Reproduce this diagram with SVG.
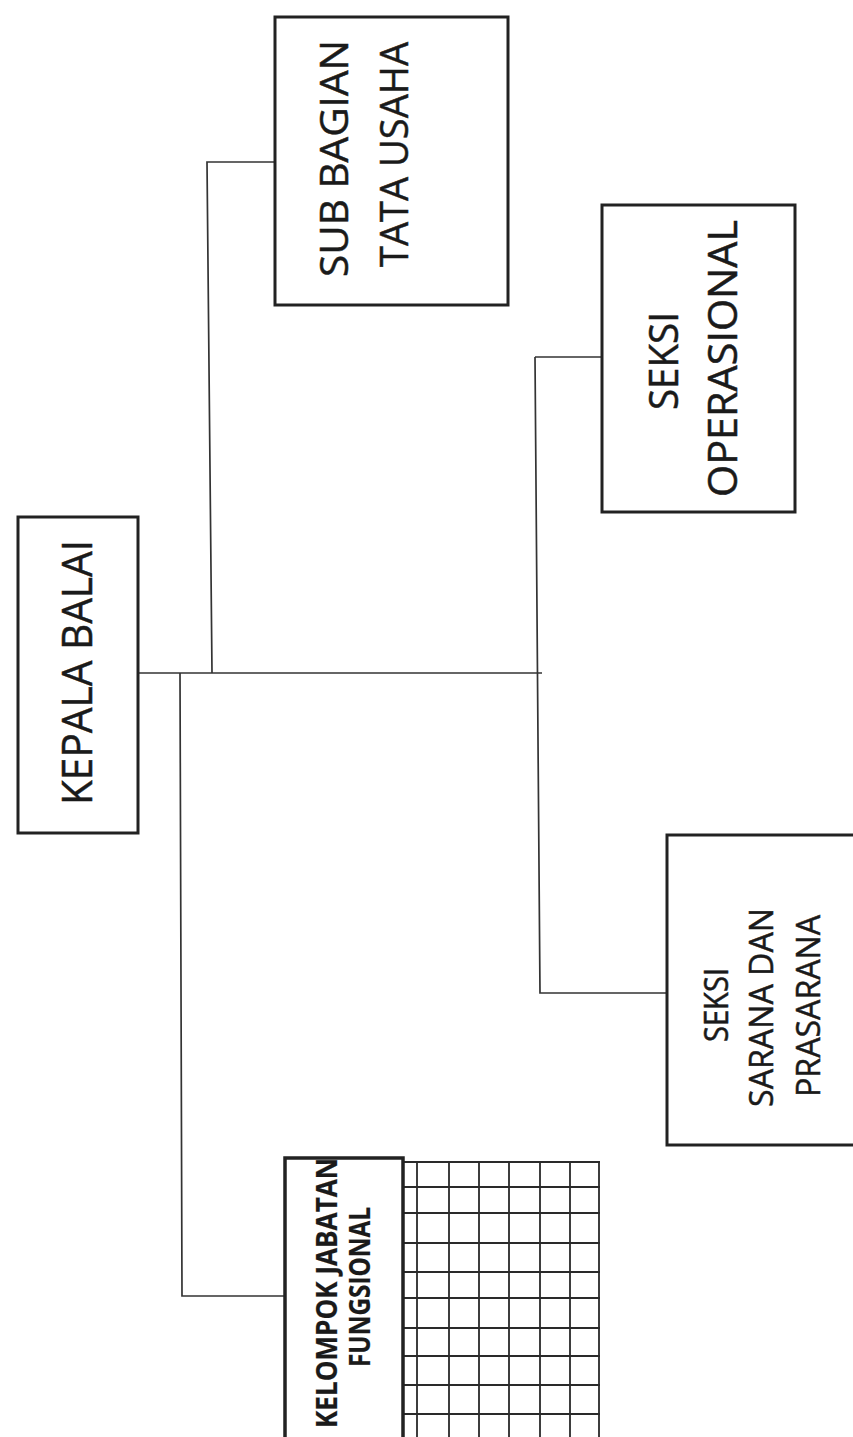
<svg xmlns="http://www.w3.org/2000/svg" width="853" height="1437" viewBox="0 0 853 1437">
<style>
.box{fill:#fff;stroke:#222;stroke-width:3}
.conn{fill:none;stroke:#333;stroke-width:1.7}
.grid{fill:none;stroke:#2a2a2a;stroke-width:1.8}
.t{font-family:"Open Sans","Liberation Sans",sans-serif;fill:#1a1a1a;stroke:#1a1a1a;stroke-width:0.5;text-anchor:middle}
.b{font-weight:bold;stroke-width:0.2}
</style>
<rect width="853" height="1437" fill="#fff"/>
<g id="connectors">
<path class="conn" d="M138,673 H542"/>
<path class="conn" d="M212,673 L207,162 H275"/>
<path class="conn" d="M535,357 L540,993 H668"/>
<path class="conn" d="M535,357 H603"/>
<path class="conn" d="M180,673 L182,1296 H285"/>
</g>
<g id="kepala-balai">
<rect class="box" x="18" y="517" width="120" height="316"/>
<text class="t" font-size="42" transform="translate(92,672.5) rotate(-90)" textLength="265" lengthAdjust="spacingAndGlyphs">KEPALA BALAI</text>
</g>
<g id="sub-bagian-tata-usaha">
<rect class="box" x="275" y="17" width="233" height="288"/>
<text class="t" font-size="39" transform="translate(348,158.5) rotate(-90)" textLength="237" lengthAdjust="spacingAndGlyphs">SUB BAGIAN</text>
<text class="t" font-size="39" transform="translate(408,154.5) rotate(-90)" textLength="225" lengthAdjust="spacingAndGlyphs">TATA USAHA</text>
</g>
<g id="seksi-operasional">
<rect class="box" x="602" y="205" width="193" height="307"/>
<text class="t" font-size="40" transform="translate(678,361) rotate(-90)" textLength="98" lengthAdjust="spacingAndGlyphs">SEKSI</text>
<text class="t" font-size="40" transform="translate(737,358.5) rotate(-90)" textLength="277" lengthAdjust="spacingAndGlyphs">OPERASIONAL</text>
</g>
<g id="seksi-sarana-dan-prasarana">
<rect class="box" x="667" y="835" width="200" height="310"/>
<text class="t" font-size="32" transform="translate(728,1005) rotate(-90)" textLength="74" lengthAdjust="spacingAndGlyphs">SEKSI</text>
<text class="t" font-size="32" transform="translate(773,1007.5) rotate(-90)" textLength="199" lengthAdjust="spacingAndGlyphs">SARANA DAN</text>
<text class="t" font-size="32" transform="translate(820,1006) rotate(-90)" textLength="182" lengthAdjust="spacingAndGlyphs">PRASARANA</text>
</g>
<g id="kelompok-jabatan-fungsional">
<g id="grid">
<path class="grid" d="M417,1162 V1437 M449,1162 V1437 M479,1162 V1437 M509,1162 V1437 M540,1162 V1437 M570,1162 V1437 M599,1162 V1437"/>
<path class="grid" d="M402,1162 H600 M402,1187 H600 M402,1213 H600 M402,1243 H600 M402,1272 H600 M402,1298 H600 M402,1328 H600 M402,1356 H600 M402,1385 H600 M402,1414 H600"/>
</g>
<text class="t b" font-size="28" transform="translate(337,1293) rotate(-90)" textLength="270" lengthAdjust="spacingAndGlyphs">KELOMPOK JABATAN</text>
<text class="t b" font-size="28" transform="translate(370,1287) rotate(-90)" textLength="160" lengthAdjust="spacingAndGlyphs">FUNGSIONAL</text>
<path d="M285,1440 V1158 H403 V1440" fill="none" stroke="#222" stroke-width="3.5"/>
</g>
</svg>
